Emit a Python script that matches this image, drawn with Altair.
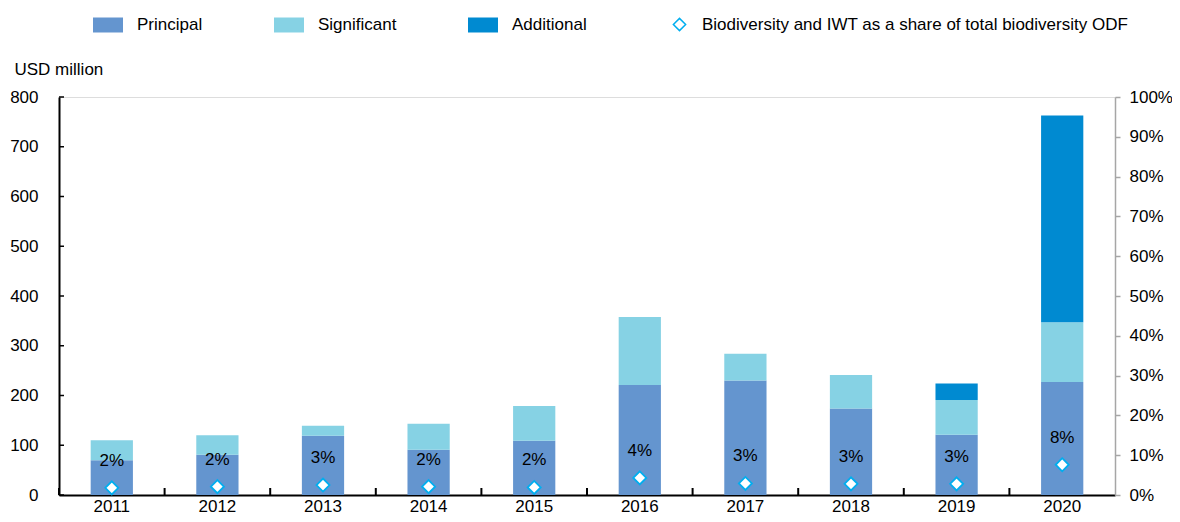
import altair as alt
import pandas as pd

# ---- data ----
years = ["2011", "2012", "2013", "2014", "2015", "2016", "2017", "2018", "2019", "2020"]
principal = [70, 81, 119, 91, 109, 221, 230, 174, 121, 227]
significant = [40, 39, 20, 52, 70, 137, 54, 67, 70, 120]
additional = [0, 0, 0, 0, 0, 0, 0, 0, 33, 416]
share = [0.018, 0.021, 0.025, 0.021, 0.019, 0.043, 0.029, 0.028, 0.028, 0.076]
share_labels = ["2%", "2%", "3%", "2%", "2%", "4%", "3%", "3%", "3%", "8%"]

series_names = ["Principal", "Significant", "Additional"]
series_colors = ["#6495CF", "#86D2E4", "#008AD1"]
point_label = "Biodiversity and IWT as a share of total biodiversity ODF"
left_ticks = [0, 100, 200, 300, 400, 500, 600, 700, 800]
right_ticks = [0, 0.1, 0.2, 0.3, 0.4, 0.5, 0.6, 0.7, 0.8, 0.9, 1.0]

FONT = "Liberation Sans"
FS = 17
W, H = 1056, 398
P_INNER, P_OUTER = 0.6, 0.3
STEP = W / (len(years) - P_INNER + 2 * P_OUTER)
DIAMOND_BLUE = "#00AEEF"

rows = []
for i, yr in enumerate(years):
    for k, (name, vals) in enumerate(zip(series_names, [principal, significant, additional])):
        rows.append({"year": yr, "series": name, "value": vals[i], "order": k})
bars_df = pd.DataFrame(rows)
share_df = pd.DataFrame({"year": years, "share": share, "label": share_labels,
                         "ind": [point_label] * len(years)})
years_df = pd.DataFrame({"year": years})
lticks_df = pd.DataFrame({"v": left_ticks})

x_scale = alt.Scale(domain=years, paddingInner=P_INNER, paddingOuter=P_OUTER)
x_axis = alt.Axis(title=None, labelAngle=0, ticks=False, tickSize=0, labelPadding=3,
                  domainColor="black", domainWidth=2, labelFontSize=FS, labelFont=FONT,
                  labelColor="black", grid=False)

y_left_scale = alt.Scale(domain=[0, 800], nice=False)
y_left_axis = alt.Axis(values=left_ticks, title="USD million", titleAngle=0, titleAlign="left",
                       titleBaseline="middle", titleX=-45, titleY=-28, titleFontSize=FS,
                       titleFont=FONT, titleFontWeight="normal", titleColor="black",
                       ticks=False, tickSize=0, labelPadding=21, labelFontSize=FS,
                       labelFont=FONT, labelColor="black", domainColor="black",
                       domainWidth=2, grid=False)

bars = alt.Chart(bars_df).mark_bar().encode(
    x=alt.X("year:N", scale=x_scale, axis=x_axis),
    y=alt.Y("value:Q", stack="zero", scale=y_left_scale, axis=y_left_axis),
    color=alt.Color("series:N",
                    scale=alt.Scale(domain=series_names, range=series_colors),
                    sort=series_names,
                    legend=alt.Legend(title=None, orient="none", legendX=34, legendY=-87,
                                      direction="horizontal",
                                      symbolType="M-1,-0.5H1V0.5H-1Z", symbolSize=900,
                                      symbolStrokeWidth=0, labelFontSize=FS, labelFont=FONT,
                                      labelColor="black", labelOffset=14, columnPadding=71,
                                      padding=0)),
    order=alt.Order("order:Q"),
)

ytick_rules = alt.Chart(lticks_df).mark_rule(color="black", strokeWidth=1.5).encode(
    y=alt.Y("v:Q", scale=y_left_scale, axis=y_left_axis),
    x=alt.value(0),
    x2=alt.value(5),
)

xtick_rules = alt.Chart(years_df).mark_rule(
    color="black", strokeWidth=2, y2Offset=-7, xOffset=-P_INNER * STEP / 2
).encode(
    x=alt.X("year:N", bandPosition=0, scale=x_scale, axis=x_axis),
    y=alt.Y(datum=0, scale=y_left_scale, axis=y_left_axis),
    y2=alt.Y2(datum=0),
)

y_right_scale = alt.Scale(domain=[0, 1], nice=False)
y_right_axis = alt.Axis(orient="right", values=right_ticks, format=".0%", title=None,
                        domainColor="#A6A6A6", domainWidth=1.5, tickColor="#A6A6A6",
                        tickWidth=1.5, tickSize=5, labelPadding=9, labelFontSize=FS,
                        labelFont=FONT, labelColor="black", grid=False)

point_legend = alt.Legend(title=None, orient="none", legendX=612, legendY=-81,
                          symbolSize=150, symbolStrokeWidth=1.5, symbolOpacity=1,
                          labelFontSize=FS, labelFont=FONT, labelColor="black",
                          labelOffset=14, labelLimit=0, padding=0)

points = alt.Chart(share_df).mark_point(filled=True, strokeWidth=1.8, size=170,
                                        opacity=1).encode(
    x=alt.X("year:N", scale=x_scale, axis=x_axis),
    y=alt.Y("share:Q", scale=y_right_scale, axis=y_right_axis),
    shape=alt.Shape("ind:N", scale=alt.Scale(domain=[point_label], range=["diamond"]),
                    legend=point_legend),
    fill=alt.Fill("ind:N", scale=alt.Scale(domain=[point_label], range=["white"]),
                  legend=point_legend),
    stroke=alt.Stroke("ind:N", scale=alt.Scale(domain=[point_label], range=[DIAMOND_BLUE]),
                      legend=point_legend),
)

texts = alt.Chart(share_df).mark_text(dy=-27, fontSize=FS, font=FONT, color="black",
                                      baseline="middle").encode(
    x=alt.X("year:N", scale=x_scale, axis=x_axis),
    y=alt.Y("share:Q", scale=y_right_scale, axis=y_right_axis),
    text="label:N",
)

left = alt.layer(bars, ytick_rules, xtick_rules)
right = alt.layer(points, texts)

chart = alt.layer(left, right).resolve_scale(y="independent").properties(
    width=W, height=H,
    autosize=alt.AutoSizeParams(type="none"),
    padding={"left": 51, "top": 89, "right": 57, "bottom": 19},
).configure_view(stroke=None).configure(font=FONT)

chart.save("out.html", embed_options={"renderer": "svg", "actions": False})
